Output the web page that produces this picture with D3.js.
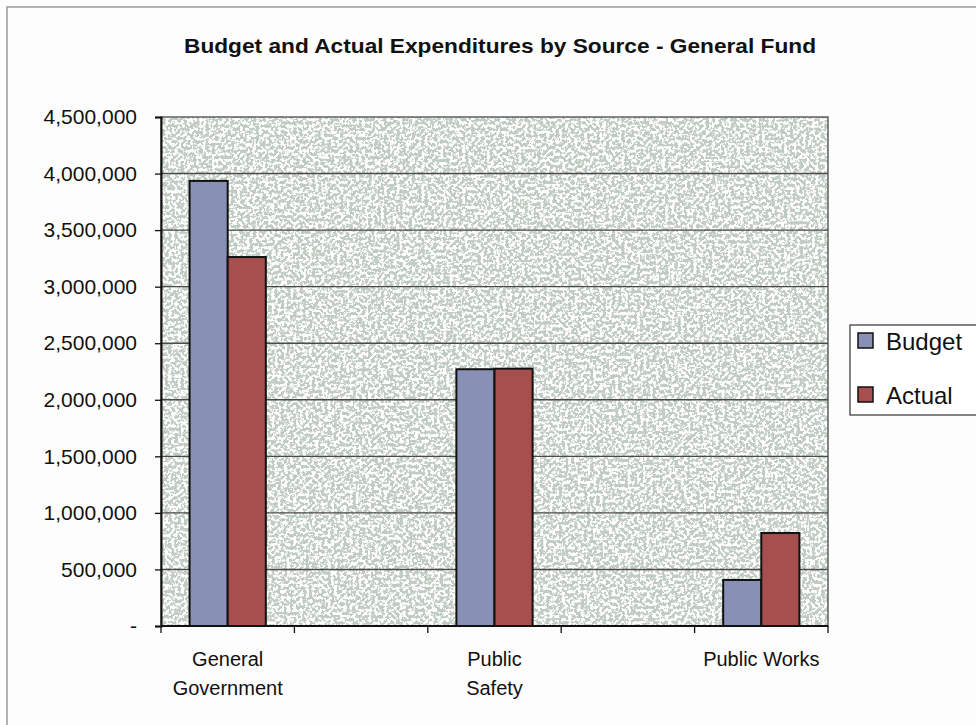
<!DOCTYPE html>
<html>
<head>
<meta charset="utf-8">
<script src="https://cdn.jsdelivr.net/npm/d3@7/dist/d3.min.js"></script>
<style>
  html, body { margin: 0; padding: 0; background: #fdfdfd; }
  svg { display: block; font-family: "Liberation Sans", Arial, sans-serif; }
</style>
</head>
<body>
<svg id="chart" width="976" height="725"></svg>
<script>
// Budget and actual expenditures per source (general fund); blank slots keep the spacing
const categoryLines = [["General", "Government"], [], ["Public", "Safety"], [], ["Public Works"]];
const seriesNames = ["Budget", "Actual"];
const budgetValues = [3935000, null, 2270000, null, 407000];
const actualValues = [3262000, null, 2275000, null, 822000];
const yTickValues = [0, 500000, 1000000, 1500000, 2000000, 2500000, 3000000, 3500000, 4000000, 4500000];
const chartTitle = "Budget and Actual Expenditures by Source - General Fund";

const colors = { Budget: "#8990b6", Actual: "#a64f4e" };

const svg = d3.select("#chart");
const W = 976, H = 725;
const plot = { left: 161, top: 117, right: 828, bottom: 626 };

// outer chart frame (only top and left edges fall inside the view)
svg.append("path")
  .attr("d", `M7,${H} L7,7 L${W},7`)
  .attr("fill", "none").attr("stroke", "#9a9a9a").attr("stroke-width", 1.5);

// title
svg.append("text")
  .attr("x", 500).attr("y", 53)
  .attr("text-anchor", "middle")
  .attr("font-size", 21).attr("font-weight", "bold").attr("fill", "#111")
  .attr("textLength", 632).attr("lengthAdjust", "spacingAndGlyphs")
  .text(chartTitle);

const x = d3.scaleBand().domain(d3.range(categoryLines.length))
  .range([plot.left, plot.right]).paddingInner(0).paddingOuter(0);
const xs = d3.scaleBand().domain(seriesNames)
  .range([0, x.bandwidth()]).paddingInner(0).paddingOuter(0.75);
const y = d3.scaleLinear().domain([0, 4500000]).range([plot.bottom, plot.top]);

// speckled plot-area fill
const defs = svg.append("defs");
const f = defs.append("filter").attr("id", "grain")
  .attr("filterUnits", "userSpaceOnUse")
  .attr("x", plot.left).attr("y", plot.top)
  .attr("width", plot.right - plot.left).attr("height", plot.bottom - plot.top)
  .attr("color-interpolation-filters", "sRGB");
f.append("feTurbulence").attr("type", "fractalNoise")
  .attr("baseFrequency", 0.32).attr("numOctaves", 2).attr("seed", 11);
f.append("feColorMatrix").attr("type", "matrix")
  .attr("values", "0 0 0 0 1  0 0 0 0 1  0 0 0 0 1  10 0 0 0 -4.6");

svg.append("rect")
  .attr("x", plot.left).attr("y", plot.top)
  .attr("width", plot.right - plot.left).attr("height", plot.bottom - plot.top)
  .attr("fill", "#c0cbc1");
svg.append("rect")
  .attr("x", plot.left).attr("y", plot.top)
  .attr("width", plot.right - plot.left).attr("height", plot.bottom - plot.top)
  .attr("fill", "#fff").attr("filter", "url(#grain)");

// horizontal gridlines
svg.append("g").selectAll("line")
  .data(yTickValues.filter(v => v > 0 && v < 4500000))
  .join("line")
  .attr("x1", plot.left).attr("x2", plot.right)
  .attr("y1", d => y(d)).attr("y2", d => y(d))
  .attr("stroke", "#4a4a4a").attr("stroke-width", 1.4);

// plot border
svg.append("rect")
  .attr("x", plot.left).attr("y", plot.top)
  .attr("width", plot.right - plot.left).attr("height", plot.bottom - plot.top)
  .attr("fill", "none").attr("stroke", "#555").attr("stroke-width", 1.4);

// bars
const rows = [];
categoryLines.forEach((_, i) => {
  [["Budget", budgetValues[i]], ["Actual", actualValues[i]]].forEach(([s, v]) => {
    if (v != null) rows.push({ i, s, v });
  });
});
svg.append("g").selectAll("rect")
  .data(rows)
  .join("rect")
  .attr("x", d => x(d.i) + xs(d.s))
  .attr("y", d => y(d.v))
  .attr("width", xs.bandwidth())
  .attr("height", d => y(0) - y(d.v))
  .attr("fill", d => colors[d.s])
  .attr("stroke", "#111").attr("stroke-width", 2);

// y axis
const yAxis = svg.append("g")
  .attr("transform", `translate(${plot.left},0)`)
  .call(d3.axisLeft(y).tickValues(yTickValues).tickSize(6).tickPadding(18)
    .tickFormat(d => d === 0 ? "-" : d3.format(",")(d)));
yAxis.select(".domain").attr("stroke", "#111").attr("stroke-width", 2);
yAxis.selectAll(".tick line").attr("stroke", "#111").attr("stroke-width", 1.3);
yAxis.selectAll(".tick text").attr("font-size", 21).attr("fill", "#111")
  .attr("font-family", "'Liberation Sans', Arial, sans-serif");

// x axis line and ticks at category boundaries
svg.append("line")
  .attr("x1", plot.left).attr("x2", plot.right)
  .attr("y1", y(0)).attr("y2", y(0))
  .attr("stroke", "#111").attr("stroke-width", 2);
const boundaries = x.domain().map(i => x(i)).concat([plot.right]);
svg.append("g").selectAll("line")
  .data(boundaries)
  .join("line")
  .attr("x1", d => d).attr("x2", d => d)
  .attr("y1", y(0)).attr("y2", y(0) + 7)
  .attr("stroke", "#111").attr("stroke-width", 1.3);

// category labels
const xl = svg.append("g").selectAll("text")
  .data(categoryLines.map((lines, i) => ({ lines, i })))
  .join("text")
  .attr("text-anchor", "middle")
  .attr("font-size", 20).attr("fill", "#111");
xl.selectAll("tspan")
  .data(d => d.lines.map((t, k) => ({ t, k, i: d.i })))
  .join("tspan")
  .attr("x", d => x(d.i) + x.bandwidth() / 2)
  .attr("y", d => 666 + d.k * 29)
  .text(d => d.t);

// legend
const lg = svg.append("g");
lg.append("rect")
  .attr("x", 850).attr("y", 325).attr("width", 140).attr("height", 90)
  .attr("fill", "#fff").attr("stroke", "#333").attr("stroke-width", 1.2);
seriesNames.forEach((s, k) => {
  const yy = 341 + k * 54;
  lg.append("rect")
    .attr("x", 858).attr("y", yy - 8).attr("width", 15).attr("height", 15)
    .attr("fill", colors[s]).attr("stroke", "#111").attr("stroke-width", 1.5);
  lg.append("text")
    .attr("x", 886).attr("y", yy + 9)
    .attr("font-size", 24).attr("fill", "#111")
    .text(s);
});
</script>
</body>
</html>
